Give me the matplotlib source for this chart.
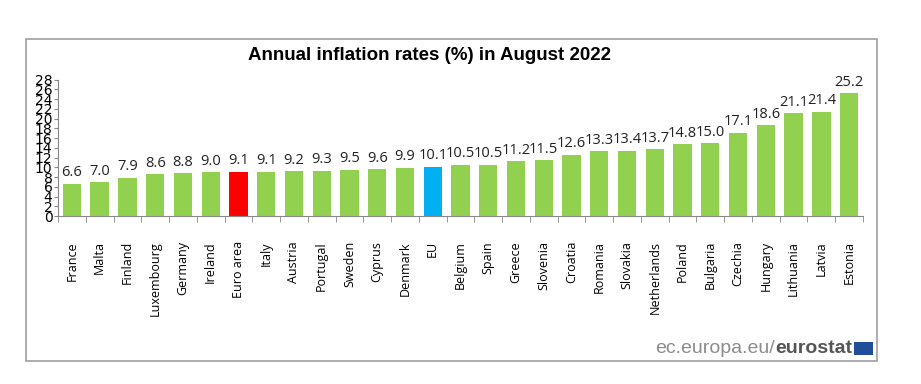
import matplotlib.pyplot as plt
from matplotlib.patches import Rectangle

countries = ["France", "Malta", "Finland", "Luxembourg", "Germany", "Ireland", "Euro area",
             "Italy", "Austria", "Portugal", "Sweden", "Cyprus", "Denmark", "EU", "Belgium",
             "Spain", "Greece", "Slovenia", "Croatia", "Romania", "Slovakia", "Netherlands",
             "Poland", "Bulgaria", "Czechia", "Hungary", "Lithuania", "Latvia", "Estonia"]
rates = [6.6, 7.0, 7.9, 8.6, 8.8, 9.0, 9.1, 9.1, 9.2, 9.3, 9.5, 9.6, 9.9, 10.1, 10.5,
         10.5, 11.2, 11.5, 12.6, 13.3, 13.4, 13.7, 14.8, 15.0, 17.1, 18.6, 21.1, 21.4, 25.2]

colors = []
for c in countries:
    if c == "Euro area":
        colors.append("#FF0000")
    elif c == "EU":
        colors.append("#00B0F0")
    else:
        colors.append("#92D050")

fig = plt.figure(figsize=(9.21, 3.84), dpi=100)
fig.patches.append(Rectangle((0.028, 0.06), 0.924, 0.838, transform=fig.transFigure,
                             fill=False, edgecolor="#A0A0A0", linewidth=1.2))

ax = fig.add_axes([0.063, 0.4375, 0.874, 0.355])
x = list(range(len(countries)))
ax.bar(x, rates, width=0.66, color=colors)
for i, v in enumerate(rates):
    ax.text(i, v + 0.7, "%.1f" % v, ha="center", va="bottom", fontsize=10.5,
            family="Open Sans", color="#222222")

ax.set_xlim(-0.5, len(countries) - 0.5)
ax.set_ylim(0, 28)
ax.set_yticks(range(0, 29, 2))
ax.tick_params(axis="y", labelsize=10, length=3, color="#888888", pad=1)
ax.set_xticks(x)
ax.set_xticklabels(countries, rotation=90, fontsize=9, family="Open Sans")
ax.tick_params(axis="x", length=0, pad=18)
ax.set_xticks([i + 0.5 for i in range(-1, len(countries))], minor=True)
ax.tick_params(axis="x", which="minor", length=4, color="#888888")
for s in ["top", "right"]:
    ax.spines[s].set_visible(False)
for s in ["left", "bottom"]:
    ax.spines[s].set_color("#888888")

fig.text(0.466, 0.855, "Annual inflation rates (%) in August 2022", ha="center", va="center",
         fontsize=13.5, fontweight="bold", family="Liberation Sans")

# eurostat watermark
fig.patches.append(Rectangle((0.927, 0.076), 0.021, 0.034, transform=fig.transFigure,
                             facecolor="#1F4E9C", edgecolor="none"))
t2 = fig.text(0.925, 0.093, "eurostat", ha="right", va="center", fontsize=14,
              fontweight="bold", color="#555555", family="Liberation Sans")
fig.canvas.draw()
bb = t2.get_window_extent(fig.canvas.get_renderer())
x0 = bb.x0 / fig.bbox.width
fig.text(x0, 0.093, "ec.europa.eu/", ha="right", va="center", fontsize=14,
         color="#8C8C8C", family="Liberation Sans")

fig.savefig("out.png", dpi=100)
